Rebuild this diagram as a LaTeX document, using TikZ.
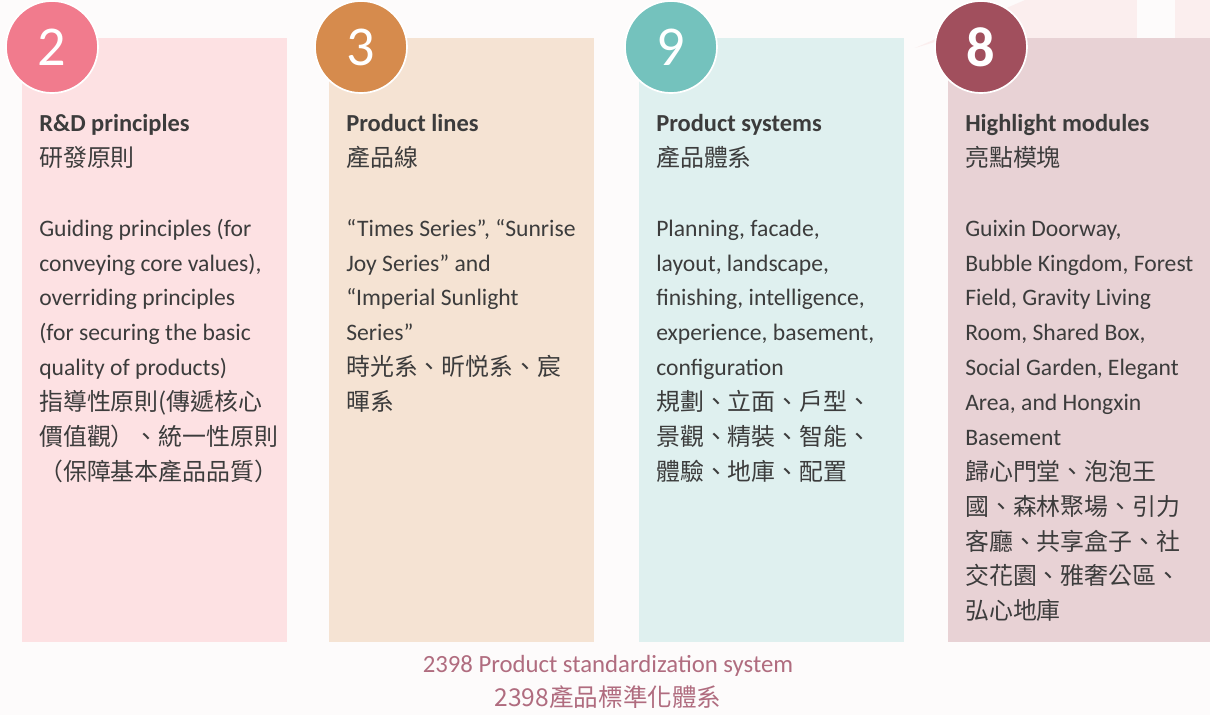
\documentclass[tikz,border=0pt]{standalone}
\usepackage{fontspec}
\setmainfont{Carlito}
\newfontfamily\cjk{Noto Sans CJK TC}
\usepackage{tikz}

\definecolor{bgpink}{HTML}{FDFBFB}
\definecolor{deco}{HTML}{FBEEEE}
\definecolor{txt}{HTML}{3C3C3C}
\definecolor{capt}{HTML}{B06C7F}
\definecolor{rdpanel}{HTML}{FDE1E3}
\definecolor{rdcirc}{HTML}{F17B8D}
\definecolor{lnpanel}{HTML}{F5E3D3}
\definecolor{lncirc}{HTML}{D68B4D}
\definecolor{sypanel}{HTML}{DFF0EF}
\definecolor{sycirc}{HTML}{74C2BD}
\definecolor{hlpanel}{HTML}{E8D2D5}
\definecolor{hlcirc}{HTML}{A14F5D}

\newcommand{\zh}[1]{{\cjk\fontsize{17}{24.8}\selectfont #1}}

\begin{document}
\begin{tikzpicture}[x=0.025cm,y=-0.025cm]
    \tikzstyle{panel} = [inner sep=0pt,minimum height=15.1cm]
\tikzstyle{badge} = [circle,draw=white,line width=1.2pt,minimum size=2.3cm,inner sep=0pt,text=white]
\tikzstyle{title} = [anchor=north west,inner sep=0pt,align=left,text=txt,font=\fontsize{17.4}{24.8}\selectfont]
\tikzstyle{body} = [anchor=north west,inner sep=0pt,align=left,text=txt,font=\fontsize{16.8}{24.8}\selectfont]
\tikzstyle{caption} = [anchor=base,inner sep=0pt,text=capt]

% background and faint corner
\fill[bgpink] (0,0) rectangle (1210,715);
\fill[deco] (915,48) -- (1025,0) -- (1137,0) -- (1137,38) -- (948,38) -- cycle;
\fill[deco] (1175,0) rectangle (1210,38);

% panels
\node[panel,fill=rdpanel,minimum width=6.625cm] (p1) at (154.5,340) {};
\node[panel,fill=lnpanel,minimum width=6.625cm] (p2) at (461.5,340) {};
\node[panel,fill=sypanel,minimum width=6.625cm] (p3) at (771.5,340) {};
\node[panel,fill=hlpanel,minimum width=6.55cm] (p4) at (1079,340) {};

% number badges
\node[badge,fill=rdcirc,font=\fontsize{40}{40}\selectfont] (c1) at (52,47) {2};
\node[badge,fill=lncirc,font=\fontsize{40}{40}\selectfont] (c2) at (361,47) {3};
\node[badge,fill=sycirc,font=\fontsize{40}{40}\selectfont] (c3) at (671,47) {9};
\node[badge,fill=hlcirc,font=\bfseries\fontsize{40}{40}\selectfont] (c4) at (981,47) {8};

% titles (strut fixes the first baseline)
\node[title] (t1) at (39,106.5) {\strut\textbf{R\&D principles}\\\zh{研發原則}};
\node[title] (t2) at (346,106.5) {\strut\textbf{Product lines}\\\zh{產品線}};
\node[title] (t3) at (656,106.5) {\strut\textbf{Product systems}\\\zh{產品體系}};
\node[title] (t4) at (965,106.5) {\strut\textbf{Highlight modules}\\\zh{亮點模塊}};

% texts
\node[body] (b1) at (39,211.5) {\strut Guiding principles (for\\conveying core values),\\overriding principles\\(for securing the basic\\quality of products)\\
\zh{指導性原則(傳遞核心}\\\zh{價值觀）、統一性原則}\\\zh{（保障基本產品品質）}};
\node[body] (b2) at (346,211.5) {\strut “Times Series”, “Sunrise\\Joy Series” and\\“Imperial Sunlight\\Series”\\
\zh{時光系、昕悦系、宸}\\\zh{暉系}};
\node[body] (b3) at (656,211.5) {\strut Planning, facade,\\layout, landscape,\\finishing, intelligence,\\experience, basement,\\configuration\\
\zh{規劃、立面、戶型、}\\\zh{景觀、精裝、智能、}\\\zh{體驗、地庫、配置}};
\node[body] (b4) at (965,211.5) {\strut Guixin Doorway,\\Bubble Kingdom, Forest\\Field, Gravity Living\\Room, Shared Box,\\Social Garden, Elegant\\Area, and Hongxin\\Basement\\
\zh{歸心門堂、泡泡王}\\\zh{國、森林聚場、引力}\\\zh{客廳、共享盒子、社}\\\zh{交花園、雅奢公區、}\\\zh{弘心地庫}};

% caption
\node[caption,font=\fontsize{17.6}{17.6}\selectfont] (cap1) at (608,673) {2398 Product standardization system};
\node[caption,font=\cjk\fontsize{17.5}{17.5}\selectfont] (cap2) at (608,707) {2398產品標準化體系};
\end{tikzpicture}
\end{document}
